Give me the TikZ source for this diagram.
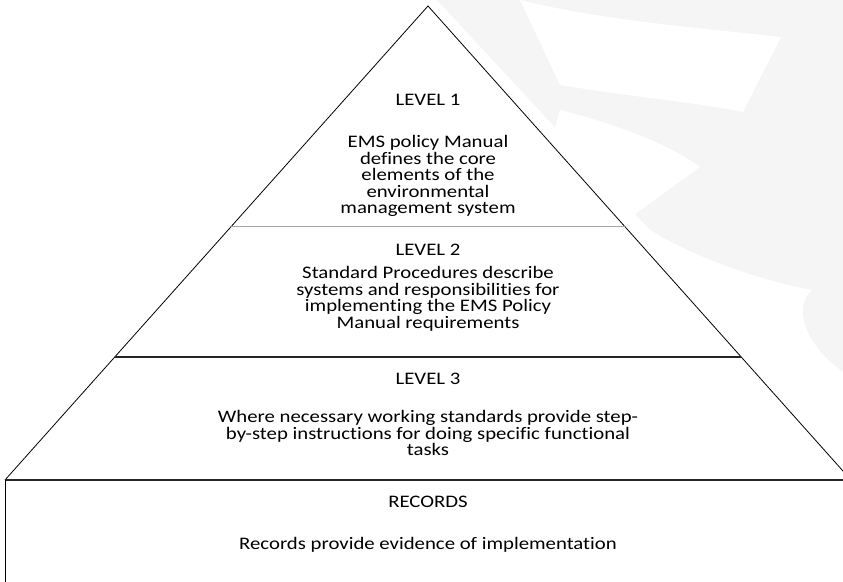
\documentclass[tikz,border=0pt]{standalone}
\usepackage{fontspec}
\setmainfont{Carlito}[Ligatures={NoCommon,NoContextual}]
\usepackage{tikz}
\usetikzlibrary{calc}

\definecolor{wmgray}{RGB}{245,245,245}

\begin{document}
\begin{tikzpicture}[x=0.75pt, y=0.75pt,
    txt/.style={align=center, inner sep=0pt, xscale=1.18,
      font=\fontsize{13.2}{12.4}\selectfont},
    side/.style={black, line width=0.6pt},
    sep/.style={black!85, line width=0.9pt}]
  \useasboundingbox (0,0) rectangle (843,582);

  % faint backdrop
  \fill[wmgray] (437,582) -- (843,582) -- (843,210)
    .. controls (800,242) and (795,277) .. (812,292)
    .. controls (760,302) and (700,322) .. (650,352) -- cycle;
  \fill[white] (520,582) .. controls (600,562) and (700,554) .. (781,545)
    -- (743,470) .. controls (700,479) and (640,484) .. (560,497) -- cycle;
  \fill[white] (560,472) .. controls (620,457) and (670,437) .. (700,415)
    -- (627,362) .. controls (600,382) and (580,392) .. (540,402) -- cycle;

  \coordinate (top) at (428,576);
  \coordinate (bl) at (5,102);
  \coordinate (br) at (851,102);
  \coordinate (l1) at ($(top)!0.466!(bl)$);
  \coordinate (r1) at ($(top)!0.466!(br)$);
  \coordinate (l2) at ($(top)!0.7405!(bl)$);
  \coordinate (r2) at ($(top)!0.7405!(br)$);
  \coordinate (rb) at (843,102);
  \coordinate (bot) at (5,0);

  \fill[white] (top) -- (bl) -- (br) -- cycle;
  \draw[side] (bl) -- (top) -- (br);
  \draw[gray!70, line width=0.9pt] (l1) -- (r1);
  \draw[sep] (l2) -- (r2);
  \draw[sep] (bl) -- (rb);
  \draw[side] (bl) -- (bot);

  \node[txt] (lev1) at (428,482) {LEVEL 1};
  \node[txt] (txt1) at (428,406) {EMS policy Manual\\defines the core\\elements of the\\environmental\\management system};
  \node[txt] (lev2) at (428,332) {LEVEL 2};
  \node[txt] (txt2) at (428,283) {Standard Procedures describe\\systems and responsibilities for\\implementing the EMS Policy\\Manual requirements};
  \node[txt] (lev3) at (428,203) {LEVEL 3};
  \node[txt] (txt3) at (428,149) {Where necessary working standards provide step-\\by-step instructions for doing specific functional\\tasks};
  \node[txt] (rec) at (428,80) {RECORDS};
  \node[txt] (rectxt) at (428,37) {Records provide evidence of implementation};
\end{tikzpicture}
\end{document}
